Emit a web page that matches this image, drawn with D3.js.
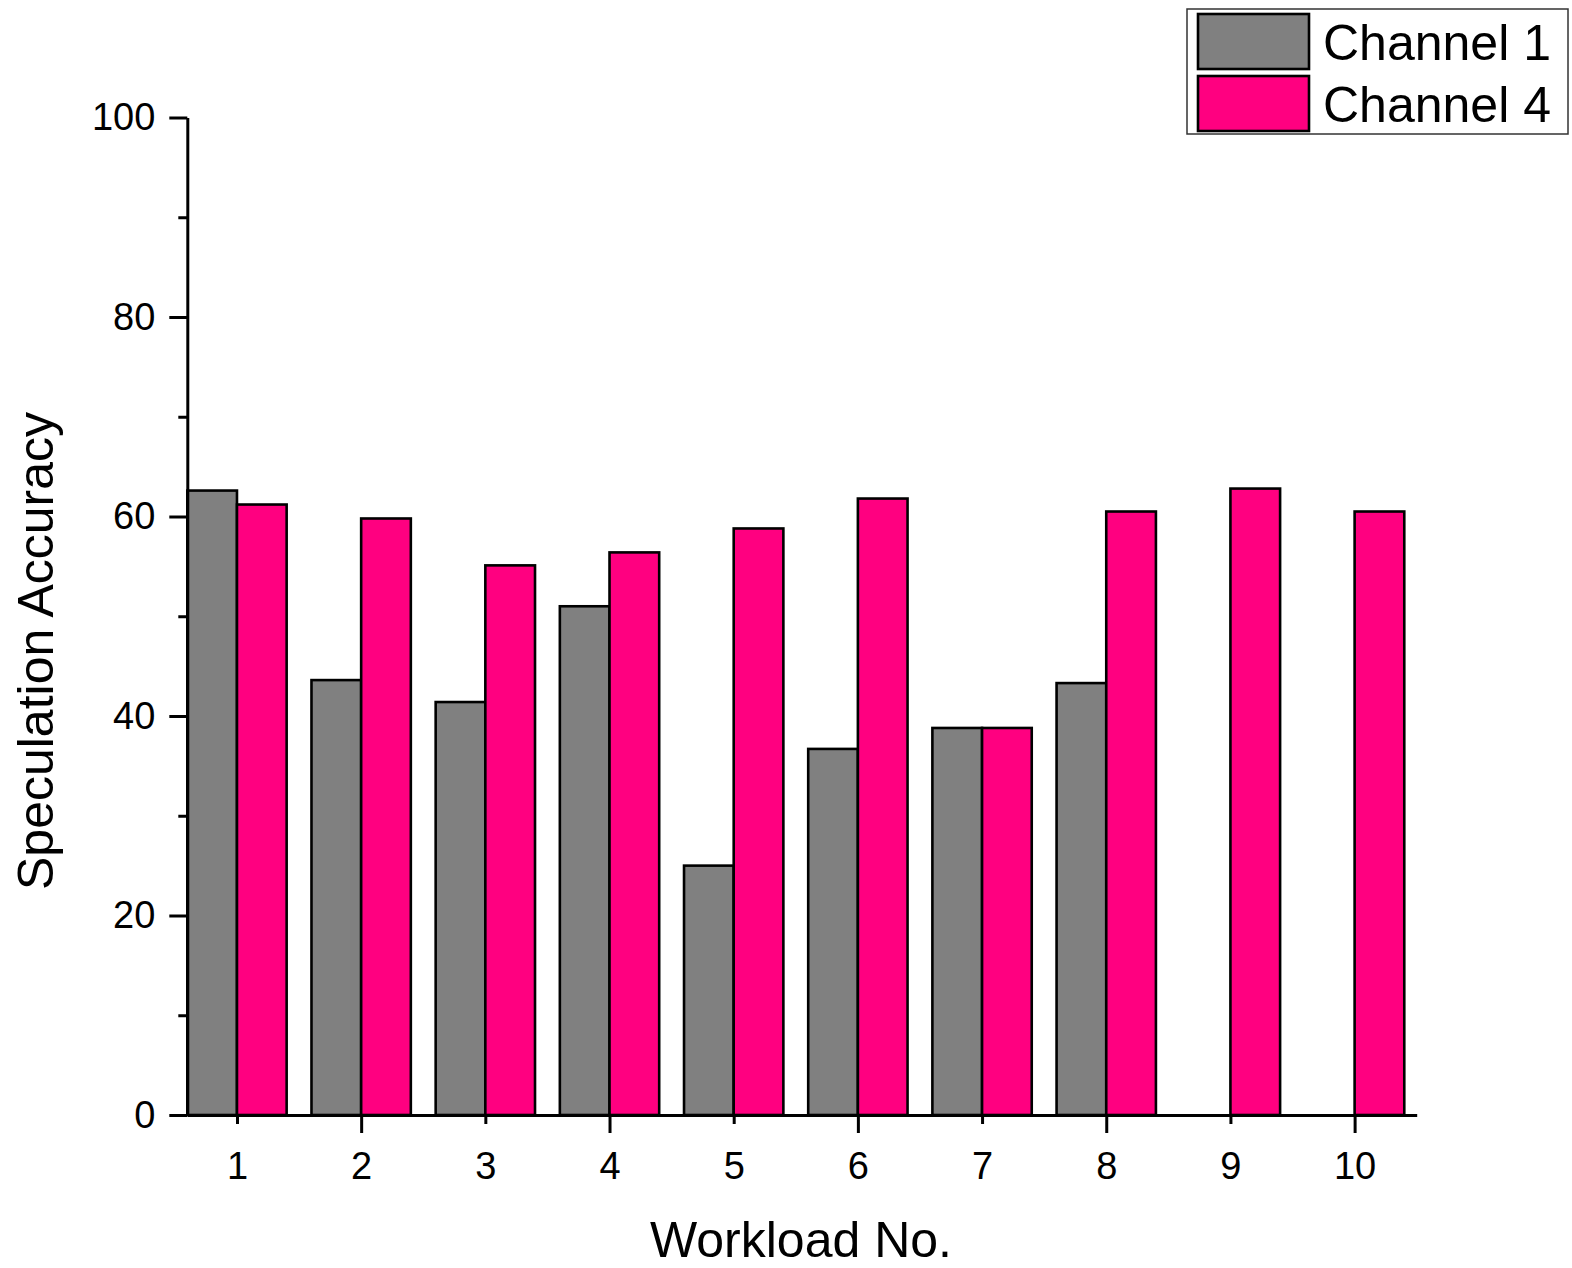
<!DOCTYPE html>
<html>
<head>
<meta charset="utf-8">
<script src="https://cdn.jsdelivr.net/npm/d3@7"></script>
<style>
  html, body { margin: 0; padding: 0; background: #fff; }
  svg { display: block; font-family: "Liberation Sans", Arial, sans-serif; }
</style>
</head>
<body>
<svg id="chart" width="1572" height="1268"></svg>
<script>
const workloads = [1, 2, 3, 4, 5, 6, 7, 8, 9, 10];
const channel1 = [62.6, 43.6, 41.4, 51.0, 25.0, 36.7, 38.8, 43.3, null, null];
const channel4 = [61.2, 59.8, 55.1, 56.4, 58.8, 61.8, 38.8, 60.5, 62.8, 60.5];
const seriesNames = ["Channel 1", "Channel 4"];
const seriesColors = ["#808080", "#FF0080"];
const yMajorTicks = [0, 20, 40, 60, 80, 100];
const yMinorTicks = [10, 30, 50, 70, 90];
const xMajorTicks = [2, 4, 6, 8, 10];
const xMinorTicks = [1, 3, 5, 7, 9];

const svg = d3.select("#chart");
const x = d3.scaleLinear().domain([0.6, 10.5]).range([187.3, 1416.7]);
const y = d3.scaleLinear().domain([0, 100]).range([1115, 117.5]);
const barW = 0.4;

const series = [channel1, channel4];
series.forEach((vals, si) => {
  svg.append("g").selectAll("rect")
    .data(workloads.map((w, i) => ({w, v: vals[i]})).filter(d => d.v != null))
    .join("rect")
    .attr("x", d => x(d.w - barW + si * barW))
    .attr("width", d => x(d.w + si * barW) - x(d.w - barW + si * barW))
    .attr("y", d => y(d.v))
    .attr("height", d => y(0) - y(d.v))
    .attr("fill", seriesColors[si])
    .attr("stroke", "#000")
    .attr("stroke-width", 2.6);
});

function styleAxis(g) {
  g.selectAll("path.domain").attr("stroke", "#000").attr("stroke-width", 3);
  g.selectAll(".tick line").attr("stroke", "#000").attr("stroke-width", 3);
  g.selectAll(".tick text").attr("fill", "#000").style("font-size", "38px")
    .style("font-family", '"Liberation Sans", Arial, sans-serif');
}

// Y axis
const yMinor = svg.append("g").attr("transform", `translate(${x(0.6)},0)`)
  .call(d3.axisLeft(y).tickValues(yMinorTicks).tickSize(9).tickFormat(""));
styleAxis(yMinor);
yMinor.select("path.domain").remove();
const yAxis = svg.append("g").attr("transform", `translate(${x(0.6)},0)`)
  .call(d3.axisLeft(y).tickValues(yMajorTicks).tickSize(18).tickSizeOuter(0).tickPadding(14));
styleAxis(yAxis);

// X axis
const xMinor = svg.append("g").attr("transform", `translate(0,${y(0)})`)
  .call(d3.axisBottom(x).tickValues(xMinorTicks).tickSize(9).tickPadding(28).tickFormat(d3.format("d")));
styleAxis(xMinor);
xMinor.select("path.domain").remove();
const xAxis = svg.append("g").attr("transform", `translate(0,${y(0)})`)
  .call(d3.axisBottom(x).tickValues(xMajorTicks).tickSize(18).tickSizeOuter(0).tickPadding(19).tickFormat(d3.format("d")));
styleAxis(xAxis);

// Axis titles
svg.append("text")
  .attr("x", 801).attr("y", 1257)
  .attr("text-anchor", "middle")
  .style("font-size", "50px")
  .text("Workload No.");
svg.append("text")
  .attr("transform", "translate(53,651) rotate(-90)")
  .attr("text-anchor", "middle")
  .style("font-size", "50px")
  .text("Speculation Accuracy");

// Legend
const lg = svg.append("g");
lg.append("rect").attr("x", 1187).attr("y", 9).attr("width", 381).attr("height", 125)
  .attr("fill", "#fff").attr("stroke", "#333").attr("stroke-width", 1.5);
seriesNames.forEach((name, i) => {
  lg.append("rect").attr("x", 1198).attr("y", 14 + i * 62).attr("width", 111).attr("height", 55)
    .attr("fill", seriesColors[i]).attr("stroke", "#000").attr("stroke-width", 2.6);
  lg.append("text").attr("x", 1323).attr("y", 60 + i * 62)
    .style("font-size", "50px").text(name);
});
</script>
</body>
</html>
